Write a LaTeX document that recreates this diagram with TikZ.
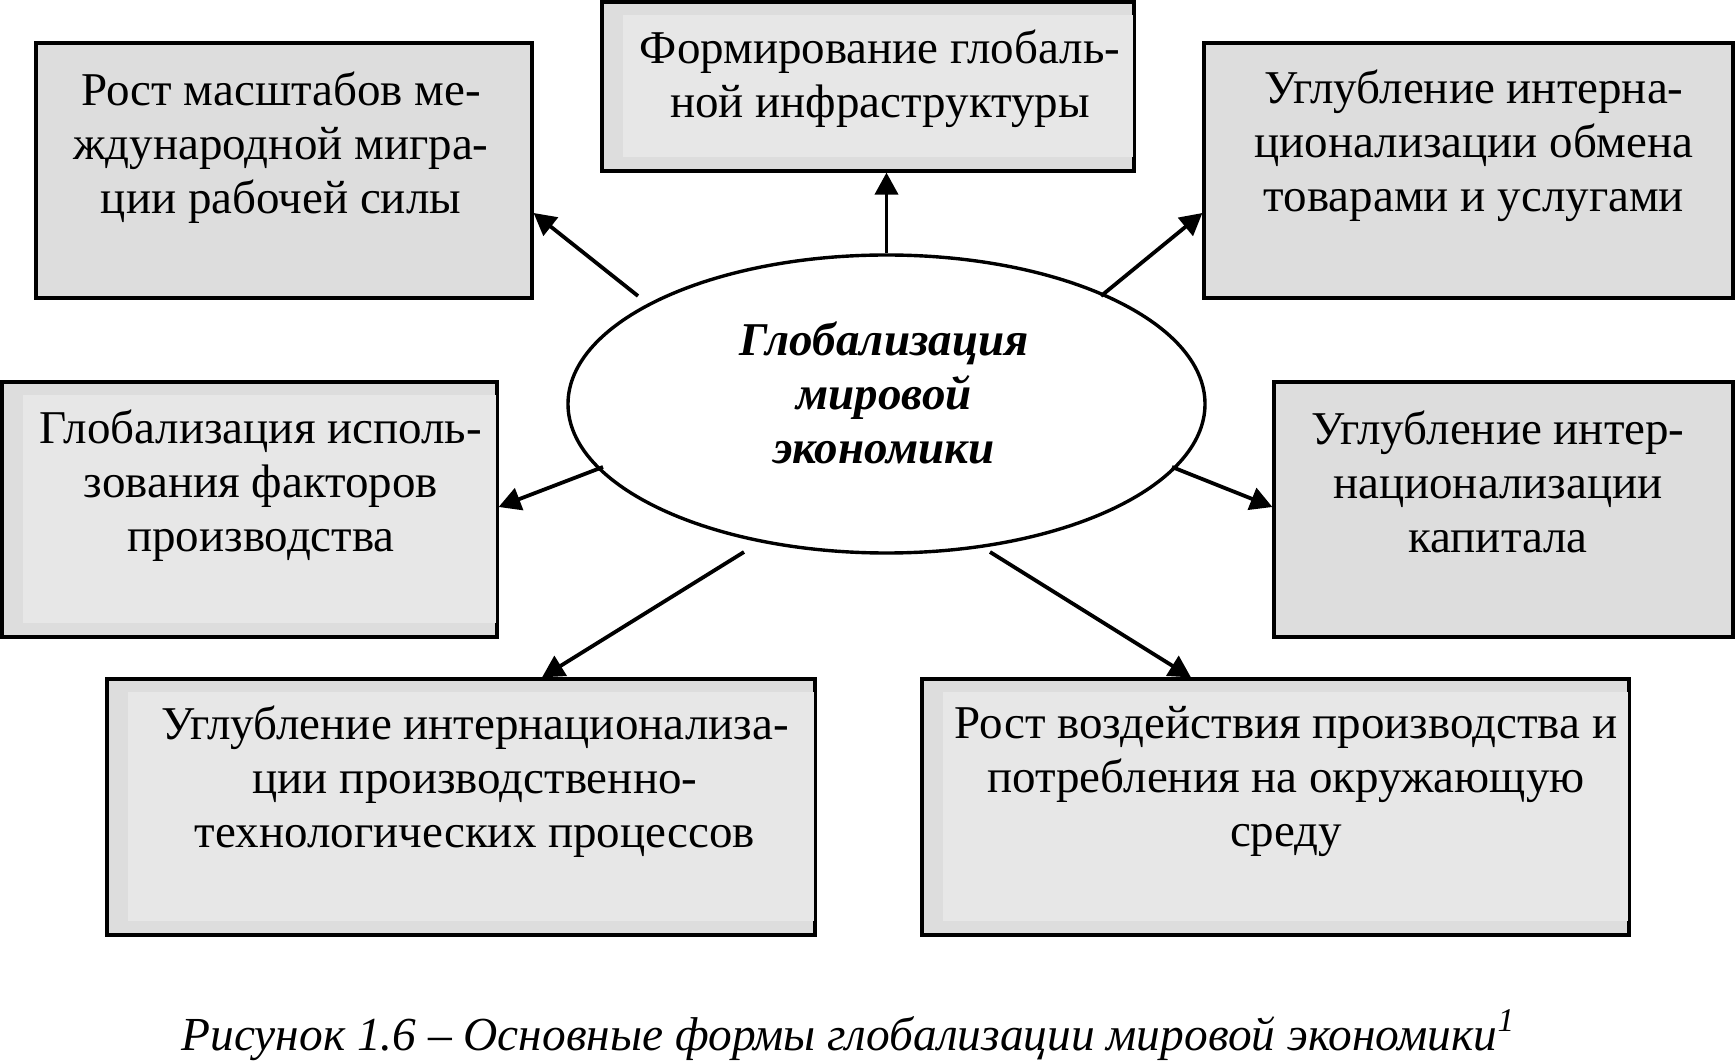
\documentclass[tikz,border=0pt]{standalone}
\usepackage{fontspec}
\setmainfont{Liberation Serif}
\usetikzlibrary{arrows.meta,calc,shapes.geometric}
\definecolor{boxfill}{RGB}{221,221,221}
\definecolor{boxinner}{RGB}{231,231,231}
\tikzset{
  box/.style={draw=black, line width=1.6pt, fill=boxfill, rectangle, inner sep=0pt},
  inner/.style={fill=boxinner},
  boxtext/.style={align=center, inner sep=0pt, anchor=north,
    font=\fontsize{23.5}{27}\selectfont, execute at begin node={\strut}},
  centertext/.style={boxtext, font=\fontsize{23.5}{27}\selectfont\bfseries\itshape},
  core/.style={draw=black, line width=1.7pt, fill=white, ellipse, inner sep=0pt},
  link/.style={line width=1.9pt, -{Triangle[length=11pt,width=11.5pt]}},
  captiontext/.style={inner sep=0pt, font=\fontsize{23.7}{27}\selectfont\itshape}
}
\begin{document}
\begin{tikzpicture}[x=0.5pt,y=-0.5pt]
\useasboundingbox (0,0) rectangle (1735,1063);

% boxes
\node[box, minimum width=248pt, minimum height=127.5pt] (b1) at (284,170.5) {};
\node[box, minimum width=266pt, minimum height=84.5pt] (b2) at (868,86.5) {};
\node[box, minimum width=264.5pt, minimum height=127.5pt] (b3) at (1468.5,170.5) {};
\node[box, minimum width=247.5pt, minimum height=127.5pt] (b4) at (249.5,509.5) {};
\node[box, minimum width=229.5pt, minimum height=127.5pt] (b5) at (1503.5,509.5) {};
\node[box, minimum width=354pt, minimum height=128pt] (b6) at (461,807) {};
\node[box, minimum width=353.5pt, minimum height=128pt] (b7) at (1275.5,807) {};

% lighter inner panels
\foreach \b in {b2,b4,b6,b7}{
  \fill[boxinner] ($(\b.north west)+(23,15)$) rectangle ($(\b.south east)+(-3,-16)$);
}

% box texts
\node[boxtext] (t1) at (281,71) {Рост масштабов ме-\\ждународной мигра-\\ции рабочей силы};
\node[boxtext] (t2) at (880,29) {Формирование глобаль-\\ной инфраструктуры};
\node[boxtext] (t3) at (1474,69) {Углубление интерна-\\ционализации обмена\\товарами и услугами};
\node[boxtext] (t4) at (261,409) {Глобализация исполь-\\зования факторов\\производства};
\node[boxtext] (t5) at (1498,410) {Углубление интер-\\национализации\\капитала};
\node[boxtext] (t6) at (475,705) {Углубление интернационализа-\\ции производственно-\\технологических процессов};
\node[boxtext] (t7) at (1286,706) {Рост воздействия производства и\\потребления на окружающую\\среду};

% central ellipse
\node[core, minimum width=318.5pt, minimum height=149pt] (e) at (886.5,404) {};
\node[centertext] (et) at (884,321) {Глобализация\\мировой\\экономики};

% connector start points
\coordinate (s1) at ($(e.center)+(-248.5,-108)$);
\coordinate (s3) at ($(e.center)+(214.5,-108)$);
\coordinate (s4) at ($(e.center)+(-283.5,63)$);
\coordinate (s5) at ($(e.center)+(285.5,63)$);
\coordinate (s6) at ($(e.center)+(-142.5,148)$);
\coordinate (s7) at ($(e.center)+(103.5,148)$);

% connectors
\draw[link] (s1) -- ($(b1.east)+(0,42.5)$);
\draw[link] (e.north) -- (e.north |- b2.south);
\draw[link] (s3) -- ($(b3.west)+(0,42.5)$);
\draw[link] (s4) -- ($(b4.east)+(0,-2.5)$);
\draw[link] (s5) -- ($(b5.west)+(0,-2.5)$);
\draw[link] (s6) -- ($(b6.north)+(81,0)$);
\draw[link] (s7) -- ($(b7.north)+(-84.5,0)$);

% caption
\node[captiontext, anchor=base west] (cap) at (181,1050) {Рисунок 1.6 – Основные формы глобализации мировой экономики\textsuperscript{1}};
\end{tikzpicture}
\end{document}
